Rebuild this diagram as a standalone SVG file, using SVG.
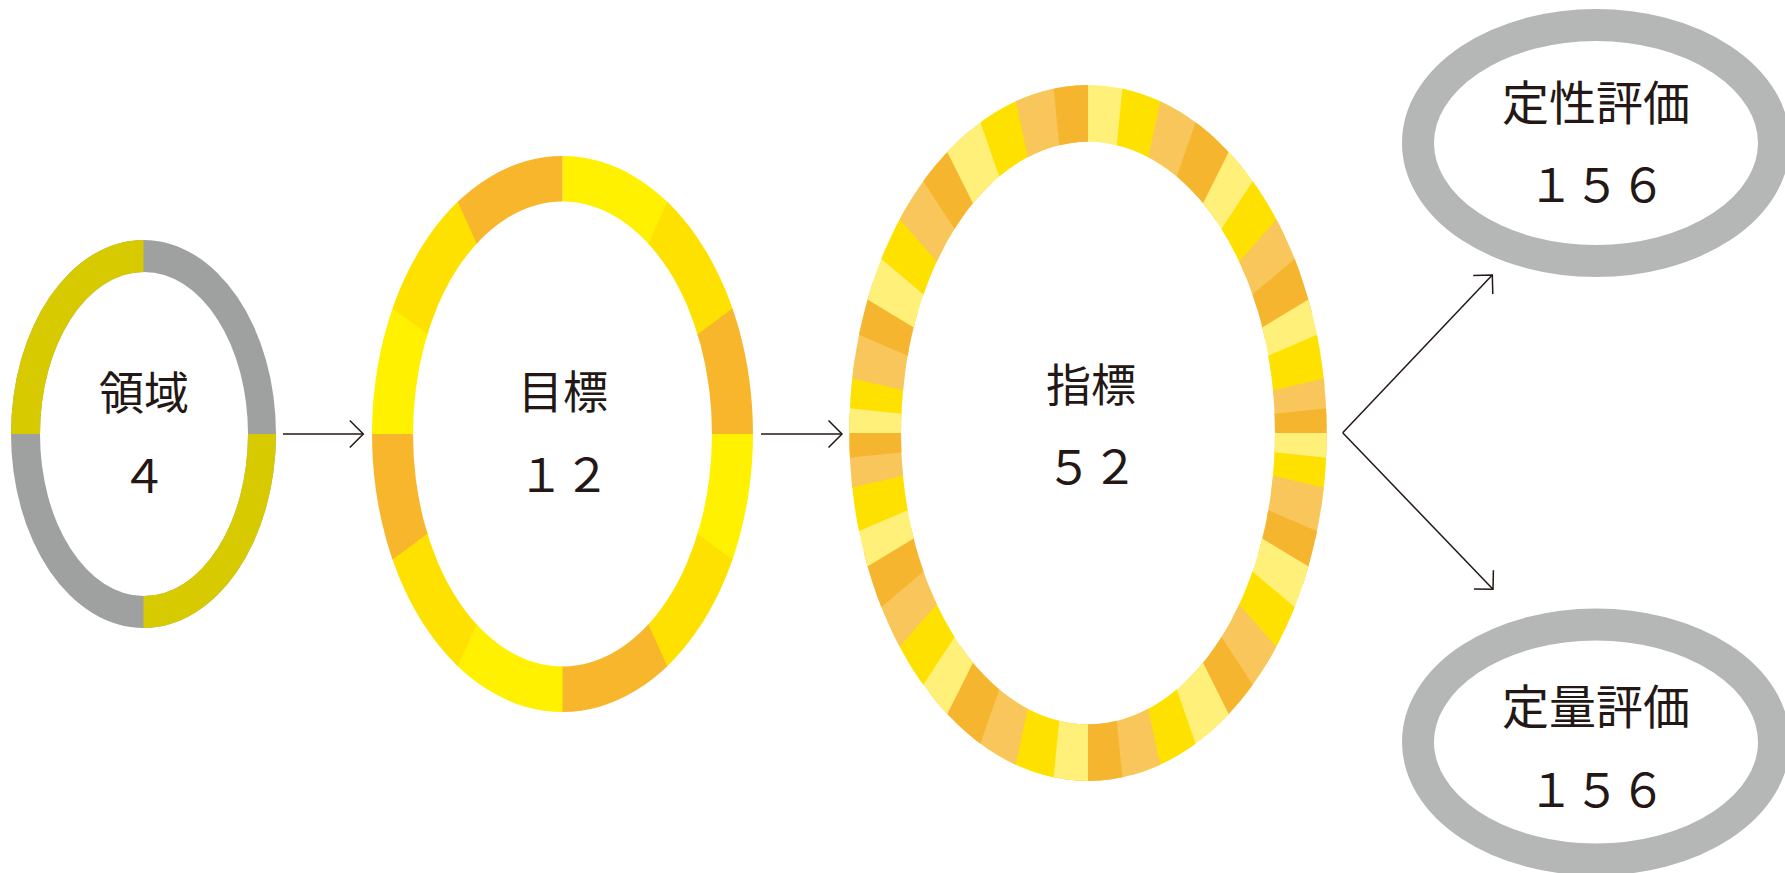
<svg xmlns="http://www.w3.org/2000/svg" width="1785" height="873" viewBox="0 0 1785 873">
<style>
.t{font-family:"Noto Sans CJK JP","Noto Sans",sans-serif;fill:#231815;text-anchor:middle}
.k{font-size:45px}.n{font-size:46px}.k4{font-size:47px}
.a{fill:#FFF100}.b{fill:#FFE100}.c{fill:#F8B62D}
.p{fill:#FFF07A}.q{fill:#FFE100}.r{fill:#F8C65A}.s{fill:#F6B52E}
.g1{fill:#9FA0A0}.y1{fill:#D7CA00}
.gr{fill:none;stroke:#B5B6B6;stroke-width:32}
.conn line{stroke:#231815;stroke-width:1.5;fill:none}
</style>
<defs>
<clipPath id="ring1"><path clip-rule="evenodd" d="M11,434 a132.5,194 0 1,0 265,0 a132.5,194 0 1,0 -265,0 Z M40,434 a104,162 0 1,0 208,0 a104,162 0 1,0 -208,0 Z"/></clipPath>
<clipPath id="ring2"><path clip-rule="evenodd" d="M372,434 a190.5,278 0 1,0 381,0 a190.5,278 0 1,0 -381,0 Z M413,434 a149.5,232.5 0 1,0 299,0 a149.5,232.5 0 1,0 -299,0 Z"/></clipPath>
<clipPath id="ring3"><path clip-rule="evenodd" d="M849.3,433 a238.7,348 0 1,0 477.4,0 a238.7,348 0 1,0 -477.4,0 Z M901,433 a187,291.3 0 1,0 374,0 a187,291.3 0 1,0 -374,0 Z"/></clipPath>
<path id="w2" d="M0,0 L0,-600 L304.6,-516.9 Z"/>
<path id="w2e" d="M0,0 L0,-600 L300,-519.6 Z"/>
<path id="w3" d="M0,0 L0,-700 L145.54,-684.7 Z"/>
<path id="w3e" d="M0,0 L0,-700 L69.52,-696.54 Z"/>
<marker id="ah" viewBox="-16 -16 18 32" markerWidth="18" markerHeight="32" refX="0" refY="0" orient="auto" markerUnits="userSpaceOnUse"><path d="M-13.5,-13.5 L0,0 L-13.5,13.5" fill="none" stroke="#231815" stroke-width="1.5"/></marker>
</defs>
<rect width="1785" height="873" fill="#FFFFFF"/>

<g id="node-ryoiki">
<g clip-path="url(#ring1)">
<rect class="g1" x="0" y="230" width="290" height="410"/>
<rect class="y1" x="0" y="230" width="143.5" height="204"/>
<rect class="y1" x="143.5" y="434" width="150" height="206"/>
</g>
<text class="t k" x="144" y="410">領域</text>
<text class="t n" x="144" y="493">４</text>
</g>

<g id="node-mokuhyo">
<g clip-path="url(#ring2)">
<g transform="translate(562.5,434) scale(1,1.28)">
<use href="#w2" class="a" transform="rotate(0)"/>
<use href="#w2" class="b" transform="rotate(30)"/>
<use href="#w2" class="c" transform="rotate(60)"/>
<use href="#w2" class="a" transform="rotate(90)"/>
<use href="#w2" class="b" transform="rotate(120)"/>
<use href="#w2" class="c" transform="rotate(150)"/>
<use href="#w2" class="a" transform="rotate(180)"/>
<use href="#w2" class="b" transform="rotate(210)"/>
<use href="#w2" class="c" transform="rotate(240)"/>
<use href="#w2" class="a" transform="rotate(270)"/>
<use href="#w2" class="b" transform="rotate(300)"/>
<use href="#w2e" class="c" transform="rotate(330)"/>
</g>
</g>
<text class="t k" x="563" y="409">目標</text>
<text class="t n" x="564" y="491.5">１２</text>
</g>

<g id="node-shihyo">
<g clip-path="url(#ring3)">
<g transform="translate(1088,433)">
<use href="#w3" class="p" transform="rotate(0)"/>
<use href="#w3" class="q" transform="rotate(5.7)"/>
<use href="#w3" class="r" transform="rotate(12.3)"/>
<use href="#w3" class="s" transform="rotate(19.1)"/>
<use href="#w3" class="p" transform="rotate(26.6)"/>
<use href="#w3" class="q" transform="rotate(33.2)"/>
<use href="#w3" class="r" transform="rotate(41.4)"/>
<use href="#w3" class="s" transform="rotate(49.9)"/>
<use href="#w3" class="p" transform="rotate(58.8)"/>
<use href="#w3" class="q" transform="rotate(66.8)"/>
<use href="#w3" class="r" transform="rotate(77)"/>
<use href="#w3" class="s" transform="rotate(84.1)"/>
<use href="#w3" class="p" transform="rotate(90)"/>
<use href="#w3" class="q" transform="rotate(95.9)"/>
<use href="#w3" class="r" transform="rotate(103)"/>
<use href="#w3" class="s" transform="rotate(113.2)"/>
<use href="#w3" class="p" transform="rotate(121.2)"/>
<use href="#w3" class="q" transform="rotate(130.1)"/>
<use href="#w3" class="r" transform="rotate(138.6)"/>
<use href="#w3" class="s" transform="rotate(146.8)"/>
<use href="#w3" class="p" transform="rotate(153.4)"/>
<use href="#w3" class="q" transform="rotate(160.9)"/>
<use href="#w3" class="r" transform="rotate(167.7)"/>
<use href="#w3" class="s" transform="rotate(174.3)"/>
<use href="#w3" class="p" transform="rotate(180)"/>
<use href="#w3" class="q" transform="rotate(185.7)"/>
<use href="#w3" class="r" transform="rotate(192.3)"/>
<use href="#w3" class="s" transform="rotate(199.1)"/>
<use href="#w3" class="p" transform="rotate(206.6)"/>
<use href="#w3" class="q" transform="rotate(213.2)"/>
<use href="#w3" class="r" transform="rotate(221.4)"/>
<use href="#w3" class="s" transform="rotate(229.9)"/>
<use href="#w3" class="p" transform="rotate(238.8)"/>
<use href="#w3" class="q" transform="rotate(246.8)"/>
<use href="#w3" class="r" transform="rotate(257)"/>
<use href="#w3" class="s" transform="rotate(264.1)"/>
<use href="#w3" class="p" transform="rotate(270)"/>
<use href="#w3" class="q" transform="rotate(275.9)"/>
<use href="#w3" class="r" transform="rotate(283)"/>
<use href="#w3" class="s" transform="rotate(293.2)"/>
<use href="#w3" class="p" transform="rotate(301.2)"/>
<use href="#w3" class="q" transform="rotate(310.1)"/>
<use href="#w3" class="r" transform="rotate(318.6)"/>
<use href="#w3" class="s" transform="rotate(326.8)"/>
<use href="#w3" class="p" transform="rotate(333.4)"/>
<use href="#w3" class="q" transform="rotate(340.9)"/>
<use href="#w3" class="r" transform="rotate(347.7)"/>
<use href="#w3e" class="s" transform="rotate(354.3)"/>
</g>
</g>
<text class="t k" x="1091" y="402">指標</text>
<text class="t n" x="1092" y="484">５２</text>
</g>

<g id="node-teisei">
<ellipse class="gr" cx="1596" cy="143" rx="178" ry="118"/>
<text class="t k4" x="1596" y="119.5">定性評価</text>
<text class="t n" x="1597" y="201.5">１５６</text>
</g>

<g id="node-teiryo">
<ellipse class="gr" cx="1596" cy="742" rx="178" ry="117.5"/>
<text class="t k4" x="1596" y="723.5">定量評価</text>
<text class="t n" x="1597" y="807">１５６</text>
</g>

<g id="connectors" class="conn">
<line x1="283" y1="434" x2="363.3" y2="434" marker-end="url(#ah)"/>
<line x1="761" y1="434" x2="842" y2="434" marker-end="url(#ah)"/>
<line x1="1342.7" y1="432.7" x2="1492.3" y2="275" marker-end="url(#ah)"/>
<line x1="1342.7" y1="432.7" x2="1493" y2="589.3" marker-end="url(#ah)"/>
</g>
</svg>
